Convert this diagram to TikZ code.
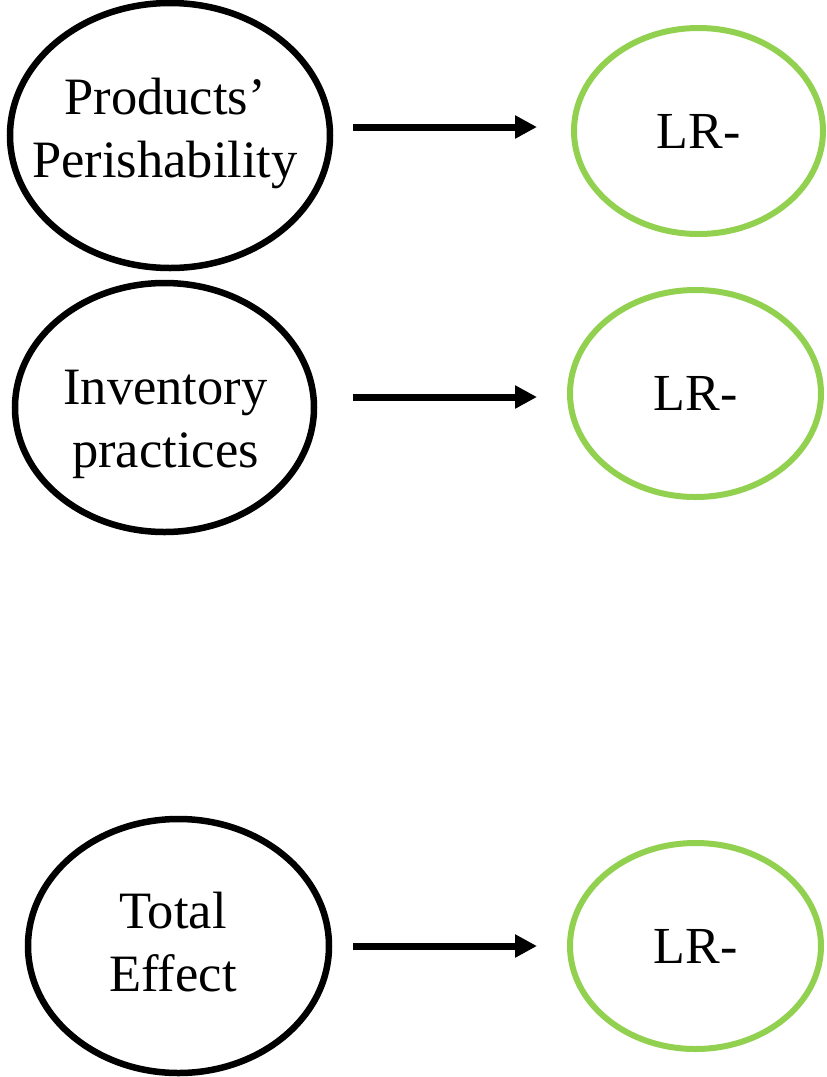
\documentclass[tikz,border=0pt]{standalone}
\usepackage{fontspec}
\setmainfont{Liberation Serif}
\usetikzlibrary{shapes.geometric,arrows.meta}
\definecolor{lrgreen}{HTML}{92D050}
\begin{document}
\begin{tikzpicture}[x=1pt,y=-1pt,
  blackell/.style={draw=black,line width=6.5pt,ellipse,inner sep=0pt},
  greenell/.style={draw=lrgreen,line width=6pt,ellipse,inner sep=0pt,font=\fontsize{52}{63}\selectfont},
  lbl/.style={inner sep=0pt,align=center,font=\fontsize{52.5}{63}\selectfont},
  arr/.style={line width=7pt,-{Triangle[length=22pt,width=22pt]}}]
\useasboundingbox (0,0) rectangle (827,1077);
% left ellipses
\node[blackell,minimum width=320pt,minimum height=265pt] (pp) at (170,135.5) {};
\node[blackell,minimum width=299pt,minimum height=249pt] (ip) at (164.5,407.5) {};
\node[blackell,minimum width=301pt,minimum height=254pt] (te) at (178.5,946) {};
\node[lbl] (ppt) at (165,133) {Products’\\Perishability};
\node[lbl] (ipt) at (165.5,424) {Inventory\\practices};
\node[lbl] (tet) at (173,942.5) {Total\\Effect};
% right ellipses
\node[greenell,minimum width=249pt,minimum height=206pt] (lr1) at (698.5,131) {LR-};
\node[greenell,minimum width=251pt,minimum height=207pt] (lr2) at (695.5,393.5) {LR-};
\node[greenell,minimum width=251pt,minimum height=206pt] (lr3) at (695.5,946) {LR-};
% arrows
\draw[arr] ([xshift=19.75pt,yshift=8.5pt]pp.east) -- ([xshift=-34pt,yshift=4pt]lr1.west);
\draw[arr] ([xshift=35.25pt,yshift=10.5pt]ip.east) -- ([xshift=-30pt,yshift=-3.5pt]lr2.west);
\draw[arr] ([xshift=20.75pt]te.east) -- ([xshift=-30pt]lr3.west);
\end{tikzpicture}
\end{document}
